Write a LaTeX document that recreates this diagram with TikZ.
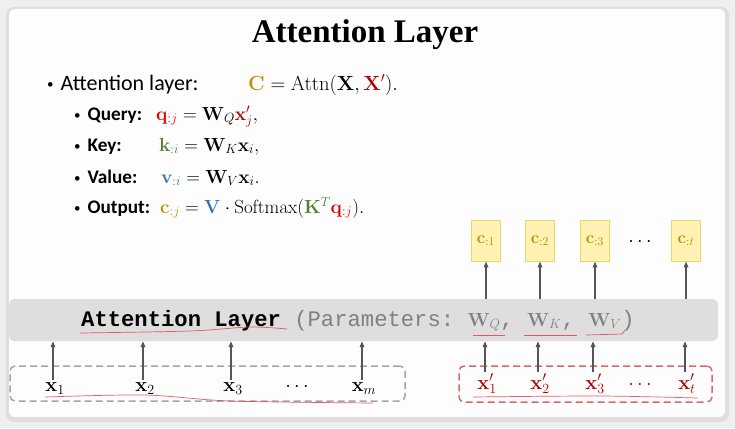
\RequirePackage{fix-cm}
\documentclass[tikz,border=0pt]{standalone}
\usepackage[no-math]{fontspec}
\setmainfont{Carlito}
\setmonofont{Liberation Mono}
\newfontfamily\titlefont{Liberation Serif}
\usetikzlibrary{arrows.meta}
\definecolor{pagegray}{HTML}{EFEFEF}
\definecolor{shadowgray}{HTML}{DEDEDE}
\definecolor{slidewhite}{HTML}{FDFDFD}
\definecolor{bandgray}{HTML}{DEDEDE}
\definecolor{paramgray}{HTML}{808080}
\definecolor{linkgray}{HTML}{555555}
\definecolor{dashgray}{HTML}{A6A6A6}
\definecolor{dashred}{HTML}{E06666}
\definecolor{boxfill}{HTML}{FFF2B3}
\definecolor{boxline}{HTML}{EDD36A}
\definecolor{cgold}{HTML}{BF9000}
\definecolor{xred}{HTML}{B00000}
\definecolor{qred}{HTML}{E00000}
\definecolor{kgreen}{HTML}{548235}
\definecolor{vblue}{HTML}{2E75B6}
\definecolor{inkred}{HTML}{E8404A}
\newcommand{\smallbullet}[1]{\raisebox{#1}{\fontsize{13}{13}\mdseries\selectfont\textbullet}}
\begin{document}
\begin{tikzpicture}[x=1pt,y=-1pt,
    cbox/.style={shape = rectangle, draw=boxline, fill=boxfill, line width=0.8pt, minimum width=29pt, minimum height=41pt, inner sep=0pt},
    link/.style={-{Triangle[length=6pt,width=4.5pt]}, draw=linkgray, line width=1.8pt},
    row/.style={anchor=base west, inner sep=0pt},
    vec/.style={anchor=base, inner sep=2pt, font=\fontsize{20}{24}\selectfont},
    ink/.style={draw=inkred, line width=0.7pt, opacity=0.85}]
    % slide
    \fill[pagegray] (0,0) rectangle (735,428);
    \useasboundingbox (0,0) rectangle (735,428);
    \fill[shadowgray, rounded corners=8pt] (6,7) rectangle (729,422);
    \fill[slidewhite, rounded corners=6pt] (9,9) rectangle (725,417);
    \node (Title) [anchor=base, inner sep=0pt] at (365, 43) {\titlefont\bfseries\fontsize{33}{36}\selectfont Attention Layer};
    % formulas
    \node (MainRow) [row] at (47, 90) {\fontsize{22}{26}\selectfont\smallbullet{2pt}\hspace{7pt}Attention layer:};
    \node (MainEq) [row] at (248, 90) {\fontsize{20.5}{24}\selectfont$\color{cgold}\mathbf{C}\color{black} = \mathrm{Attn}(\mathbf{X}, \color{xred}\mathbf{X}'\color{black}).$};
    \node (QueryRow) [row] at (74, 120) {\fontsize{19.2}{24}\selectfont\bfseries\smallbullet{1pt}\hspace{7pt}Query:};
    \node (QueryEq) [row] at (156, 120) {\fontsize{19}{24}\selectfont${\color{qred}\mathbf{q}_{:j}} = \mathbf{W}_Q{\color{xred}\mathbf{x}'_j},$};
    \node (KeyRow) [row] at (74, 151) {\fontsize{19.2}{24}\selectfont\bfseries\smallbullet{1pt}\hspace{7pt}Key:};
    \node (KeyEq) [row] at (159, 151) {\fontsize{19}{24}\selectfont${\color{kgreen}\mathbf{k}_{:i}} = \mathbf{W}_K\mathbf{x}_i,$};
    \node (ValueRow) [row] at (74, 183) {\fontsize{19.2}{24}\selectfont\bfseries\smallbullet{1pt}\hspace{7pt}Value:};
    \node (ValueEq) [row] at (161, 183) {\fontsize{19}{24}\selectfont${\color{vblue}\mathbf{v}_{:i}} = \mathbf{W}_V\mathbf{x}_i.$};
    \node (OutputRow) [row] at (74, 213) {\fontsize{19.2}{24}\selectfont\bfseries\smallbullet{1pt}\hspace{7pt}Output:};
    \node (OutputEq) [row] at (160, 213) {\fontsize{19}{24}\selectfont${\color{cgold}\mathbf{c}_{:j}} = {\color{vblue}\mathbf{V}}\cdot\mathrm{Softmax}\Bigl({\color{kgreen}\mathbf{K}^T}{\color{qred}\mathbf{q}_{:j}}\Bigr).$};
    % layer band
    \node (Layer) [shape = rectangle, fill=bandgray, rounded corners=5pt, minimum width=709pt, minimum height=42pt] at (363.5, 320) {};
    \node (LayerText) [row] at (81, 326) {\fontsize{22.2}{26}\selectfont\ttfamily{\bfseries Attention Layer}\ \color{paramgray}(Parameters: {\fontsize{19}{24}\selectfont$\mathbf{W}_Q$}, {\fontsize{19}{24}\selectfont$\mathbf{W}_K$}, {\fontsize{19}{24}\selectfont$\mathbf{W}_V$})};
    % input boxes
    \node (KeyBox) [shape = rectangle, draw=dashgray, dash pattern=on 7pt off 4pt, line width=1.5pt, rounded corners=5pt, minimum width=395pt, minimum height=35pt] at (207.5, 383.5) {};
    \node (QueryBox) [shape = rectangle, draw=dashred, dash pattern=on 7pt off 4pt, line width=1.5pt, rounded corners=5pt, minimum width=253pt, minimum height=36pt] at (585.5, 384) {};
    \node (InOne) [vec] at (55, 391) {$\mathbf{x}_1$};
    \node (InTwo) [vec] at (145, 391) {$\mathbf{x}_2$};
    \node (InThree) [vec] at (233, 391) {$\mathbf{x}_3$};
    \node (InDots) [vec] at (297, 391) {$\cdots$};
    \node (InM) [vec] at (364, 391) {$\mathbf{x}_m$};
    \node (QueryOne) [vec, text=xred] at (487, 389) {$\mathbf{x}'_1$};
    \node (QueryTwo) [vec, text=xred] at (540, 389) {$\mathbf{x}'_2$};
    \node (QueryThree) [vec, text=xred] at (595, 389) {$\mathbf{x}'_3$};
    \node (QueryDots) [vec, text=xred] at (640, 389) {$\cdots$};
    \node (QueryT) [vec, text=xred] at (687, 389) {$\mathbf{x}'_t$};
    % outputs
    \node (OutOne) [cbox] at (486, 240.5) {\fontsize{17}{20}\selectfont$\color{cgold}\mathbf{c}_{:1}$};
    \node (OutTwo) [cbox] at (540, 240.5) {\fontsize{17}{20}\selectfont$\color{cgold}\mathbf{c}_{:2}$};
    \node (OutThree) [cbox] at (595, 240.5) {\fontsize{17}{20}\selectfont$\color{cgold}\mathbf{c}_{:3}$};
    \node (OutDots) at (640, 242) {\fontsize{20}{24}\selectfont$\cdots$};
    \node (OutT) [cbox] at (686, 240.5) {\fontsize{17}{20}\selectfont$\color{cgold}\mathbf{c}_{:t}$};
    % arrows
    \foreach \n in {InOne, InTwo, InThree, InM, QueryOne, QueryTwo, QueryThree, QueryT}
        \draw[link] ([xshift=-2pt]\n.north) -- ([xshift=-2pt]\n.north |- Layer.south);
    \foreach \n in {OutOne, OutTwo, OutThree, OutT}
        \draw[link] (\n.south |- Layer.north) -- (\n.south);
    % ink marks
    \draw[ink] plot[smooth] coordinates {(80,333) (190,331) (250,327) (287,329)};
    \draw[ink] (473,335) -- (505,335);
    \draw[ink] (524,335) -- (577,335);
    \draw[ink] (586,335) -- (622,334) -- (625,330);
    \draw[ink] plot[smooth] coordinates {(45,397) (145,395) (230,401) (373,403)};
    \draw[ink] plot[smooth] coordinates {(473,397) (600,396) (698,398)};
\end{tikzpicture}
\end{document}
